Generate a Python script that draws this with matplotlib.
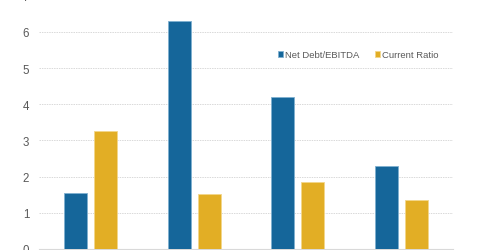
import numpy as np
import matplotlib
matplotlib.use("Agg")
import matplotlib.pyplot as plt

plt.rcParams['font.family'] = ['Liberation Sans', 'DejaVu Sans']

# values
groups = ["A", "B", "C", "D"]
net_debt_ebitda = [1.55, 6.31, 4.19, 2.30]
current_ratio = [3.27, 1.51, 1.86, 1.34]
y_ticks = [0, 1, 2, 3, 4, 5, 6, 7]

blue = "#15669a"
gold = "#e2ae25"

fig = plt.figure(figsize=(4.8, 2.51), dpi=100)
# axis area runs a little past the top edge, like the source crop
ax = fig.add_axes([39 / 480, 1 / 251, 414 / 480, 7 * 36.2 / 251])

x = np.arange(len(groups))
w = 0.222
off = 0.143
ax.bar(x - off, net_debt_ebitda, w, color=blue, edgecolor="#7fb0d0", linewidth=0.6,
       label="Net Debt/EBITDA", zorder=3)
ax.bar(x + off, current_ratio, w, color=gold, edgecolor="#f3d68a", linewidth=0.6,
       label="Current Ratio", zorder=3)

ax.set_xlim(-0.5, len(groups) - 0.5)
ax.set_ylim(0, 7)
ax.set_yticks(y_ticks)
ax.set_xticks([])
ax.tick_params(axis="y", length=0, pad=7, labelsize=8.3, labelcolor="#595959")
ax.grid(axis="y", color="#d9d9d9", linestyle=(0, (1.5, 1)), linewidth=0.7, zorder=0)
for s in ["top", "right", "left"]:
    ax.spines[s].set_visible(False)
ax.spines["bottom"].set_color("#d9d9d9")

leg = ax.legend(loc="upper left", bbox_to_anchor=(0.567, 0.80), ncol=2, frameon=False,
                fontsize=6.8, handlelength=0.55, handleheight=0.55, handletextpad=0.25,
                columnspacing=1.6, borderaxespad=0)
for t in leg.get_texts():
    t.set_color("#595959")

fig.savefig("out.png", dpi=100)
